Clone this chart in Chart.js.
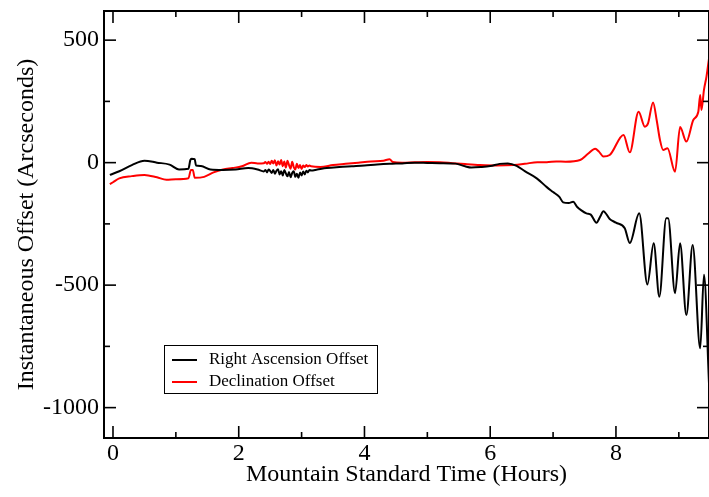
<!DOCTYPE html>
<html>
<head>
<meta charset="utf-8">
<script src="https://cdn.jsdelivr.net/npm/chart.js@4.4.1/dist/chart.umd.min.js"></script>
<style>
  html, body { margin: 0; padding: 0; background: #fff; }
  #c { display: block; }
</style>
</head>
<body>
<canvas id="c" width="709" height="497"></canvas>
<script>
// ---- Data ----
const seriesNames = ["Right Ascension Offset", "Declination Offset"];

// noisy stretch shared time stamps (hours)
const noiseHours = [2.4, 2.425, 2.45, 2.475, 2.5, 2.525, 2.55, 2.575, 2.6, 2.625, 2.65, 2.675, 2.7, 2.725, 2.75, 2.775, 2.8, 2.825, 2.85, 2.875, 2.9, 2.925, 2.95, 2.975, 3.0, 3.025, 3.05, 3.075, 3.1, 3.125, 3.15];

// Right Ascension offset (arcsec)
const raHeadHours = [-0.05, 0.1, 0.3, 0.5, 0.7, 0.9, 1.05, 1.2, 1.23, 1.25, 1.3, 1.32, 1.4, 1.55, 1.75, 1.95, 2.15, 2.3];
const raHeadValues = [-50, -35, -10, 8, 0, -8, -28, -25, 10, 16, 14, -12, -14, -28, -30, -28, -22, -28];
const raNoiseValues = [-36, -30, -40, -28, -34, -42, -30, -45, -33, -27, -48, -35, -52, -30, -44, -56, -38, -60, -42, -35, -58, -45, -62, -40, -52, -36, -48, -33, -40, -30, -32];
const raTailHours = [3.25, 3.4, 3.6, 3.8, 4.0, 4.2, 4.4, 4.6, 4.8, 5.0, 5.2, 5.45, 5.6, 5.7, 5.85, 6.0, 6.15, 6.28, 6.42, 6.55, 6.74, 6.9, 7.0, 7.1, 7.16, 7.25, 7.32, 7.38, 7.45, 7.53, 7.6, 7.69, 7.75, 7.8, 7.9, 8.0, 8.14, 8.22, 8.37, 8.5, 8.6, 8.69, 8.8, 8.83, 8.94, 9.02, 9.12, 9.22, 9.34, 9.4, 9.48];
const raTailValues = [-28, -22, -18, -15, -12, -8, -5, -3, 0, -1, -2, -4, -15, -20, -18, -14, -5, -3, -13, -35, -64, -100, -120, -140, -162, -165, -160, -180, -195, -207, -212, -245, -220, -198, -230, -245, -268, -328, -207, -497, -329, -547, -227, -227, -533, -329, -622, -336, -758, -458, -900];

// Declination offset (arcsec)
const decHeadHours = [-0.05, 0.0, 0.1, 0.3, 0.5, 0.7, 0.85, 1.0, 1.2, 1.24, 1.27, 1.3, 1.45, 1.6, 1.75, 1.9, 2.05, 2.2, 2.3];
const decHeadValues = [-88, -80, -64, -55, -50, -60, -70, -68, -64, -30, -30, -62, -58, -40, -28, -22, -15, 0, -3];
const decNoiseValues = [-2, 3, -5, 4, -6, 8, -4, 10, -12, 6, -8, 11, -15, 5, -20, 8, -10, -25, 4, -18, -28, -5, -22, -10, -26, -12, -18, -10, -16, -12, -15];
const decTailHours = [3.3, 3.5, 3.7, 3.9, 4.1, 4.3, 4.4, 4.45, 4.6, 4.8, 5.0, 5.2, 5.4, 5.6, 5.84, 6.1, 6.37, 6.55, 6.75, 6.9, 7.05, 7.2, 7.43, 7.55, 7.67, 7.73, 7.8, 7.9, 8.12, 8.22, 8.36, 8.46, 8.51, 8.59, 8.65, 8.7, 8.75, 8.82, 8.94, 9.02, 9.12, 9.23, 9.31, 9.34, 9.36, 9.4, 9.44, 9.48];
const decTailValues = [-18, -10, -5, 0, 5, 8, 14, 3, 0, 2, 3, 2, -2, -6, -10, -12, -10, -5, 2, 2, 5, 4, 11, 35, 57, 45, 25, 31, 113, 42, 208, 147, 160, 246, 170, 93, 52, 59, -37, 145, 86, 174, 208, 276, 215, 297, 351, 425];

const raHours = raHeadHours.concat(noiseHours, raTailHours);
const raValues = raHeadValues.concat(raNoiseValues, raTailValues);
const decHours = decHeadHours.concat(noiseHours, decTailHours);
const decValues = decHeadValues.concat(decNoiseValues, decTailValues);

const xTickValues = [0, 2, 4, 6, 8];
const xMinorValues = [1, 3, 5, 7, 9];
const yTickValues = [-1000, -500, 0, 500];
const yMinorValues = [-750, -250, 250];

const toPoints = (xs, ys) => xs.map((x, i) => ({ x: x, y: ys[i] }));

// ---- Frame with mirrored inward ticks ----
const framePlugin = {
  id: 'frame',
  afterDatasetsDraw(chart) {
    const { ctx, chartArea: a, scales } = chart;
    const xs = scales.x, ys = scales.y;
    ctx.save();
    ctx.strokeStyle = '#000';
    ctx.lineWidth = 1.6;
    const tick = (x1, y1, x2, y2) => { ctx.beginPath(); ctx.moveTo(x1, y1); ctx.lineTo(x2, y2); ctx.stroke(); };
    const major = 12, minor = 6;
    xTickValues.forEach(v => { const p = xs.getPixelForValue(v); tick(p, a.bottom, p, a.bottom - major); tick(p, a.top, p, a.top + major); });
    xMinorValues.forEach(v => { const p = xs.getPixelForValue(v); if (p <= a.right) { tick(p, a.bottom, p, a.bottom - minor); tick(p, a.top, p, a.top + minor); } });
    yTickValues.forEach(v => { const p = ys.getPixelForValue(v); tick(a.left, p, a.left + major, p); tick(a.right, p, a.right - major, p); });
    yMinorValues.forEach(v => { const p = ys.getPixelForValue(v); tick(a.left, p, a.left + minor, p); tick(a.right, p, a.right - minor, p); });
    ctx.lineWidth = 2;
    ctx.strokeRect(a.left, a.top, a.right - a.left, a.bottom - a.top);
    ctx.restore();
  }
};

// ---- Legend box inside the plot ----
const legendPlugin = {
  id: 'boxLegend',
  afterDatasetsDraw(chart) {
    const { ctx, chartArea: a } = chart;
    const bx = a.left + 60, by = a.top + 334, bw = 213, bh = 48;
    ctx.save();
    ctx.fillStyle = '#fff';
    ctx.fillRect(bx, by, bw, bh);
    ctx.strokeStyle = '#000';
    ctx.lineWidth = 1;
    ctx.strokeRect(bx + 0.5, by + 0.5, bw, bh);
    ctx.font = '17px "Liberation Serif", "Times New Roman", serif';
    ctx.textBaseline = 'middle';
    chart.data.datasets.forEach((ds, i) => {
      const y = by + 15 + i * 22;
      ctx.strokeStyle = ds.borderColor;
      ctx.lineWidth = 2;
      ctx.beginPath();
      ctx.moveTo(bx + 8, y);
      ctx.lineTo(bx + 33, y);
      ctx.stroke();
      ctx.fillStyle = '#000';
      ctx.fillText(ds.label, bx + 45, y);
    });
    ctx.restore();
  }
};

const serif = '"Liberation Serif", "Times New Roman", serif';
const noPad = s => { s.paddingTop = 0; s.paddingBottom = 0; s.paddingLeft = 0; s.paddingRight = 0; };

new Chart(document.getElementById('c'), {
  type: 'line',
  data: {
    datasets: [
      { label: seriesNames[0], data: toPoints(raHours, raValues), borderColor: '#000000', borderWidth: 2, pointRadius: 0, cubicInterpolationMode: 'monotone', fill: false },
      { label: seriesNames[1], data: toPoints(decHours, decValues), borderColor: '#ff0000', borderWidth: 2, pointRadius: 0, cubicInterpolationMode: 'monotone', fill: false }
    ]
  },
  options: {
    responsive: false,
    animation: false,
    devicePixelRatio: 1,
    layout: { padding: { top: 11, right: 0, left: 0, bottom: 0 } },
    plugins: { legend: { display: false }, tooltip: { enabled: false } },
    scales: {
      x: {
        type: 'linear',
        min: -0.143,
        max: 9.48,
        grid: { display: false, drawTicks: false },
        border: { display: false },
        afterBuildTicks: s => { s.ticks = xTickValues.map(v => ({ value: v })); },
        afterFit: s => { s.height = 59; noPad(s); },
        ticks: { color: '#000', font: { family: serif, size: 24 }, padding: 1, maxRotation: 0, autoSkip: false, callback: v => String(v) },
        title: { display: true, text: 'Mountain Standard Time (Hours)', color: '#000', font: { family: serif, size: 24 }, padding: { top: 0, bottom: 8 } }
      },
      y: {
        type: 'linear',
        min: -1124,
        max: 619,
        grid: { display: false, drawTicks: false },
        border: { display: false },
        afterBuildTicks: s => { s.ticks = yTickValues.map(v => ({ value: v })); },
        afterFit: s => { s.width = 104; noPad(s); },
        ticks: { color: '#000', font: { family: serif, size: 24 }, padding: 5, autoSkip: false, callback: v => String(v) },
        title: { display: true, text: 'Instantaneous Offset (Arcseconds)', color: '#000', font: { family: serif, size: 24 }, padding: { top: 12, bottom: 0 } }
      }
    }
  },
  plugins: [framePlugin, legendPlugin]
});
</script>
</body>
</html>
